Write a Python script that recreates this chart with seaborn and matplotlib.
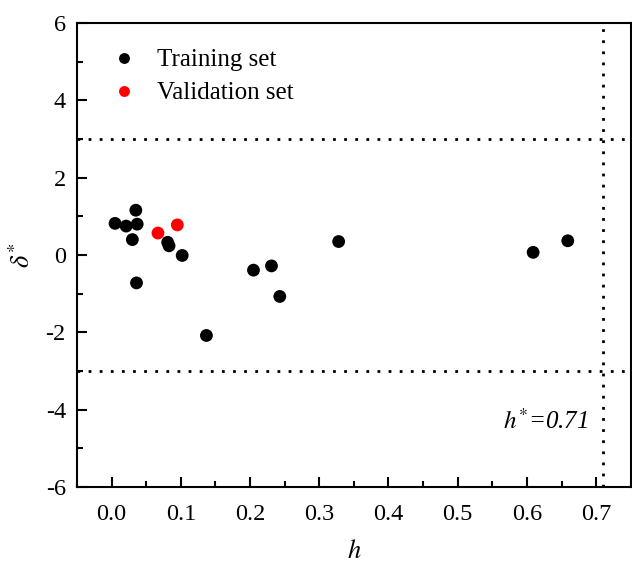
import matplotlib
matplotlib.use("Agg")
import matplotlib.pyplot as plt
import seaborn as sns
import pandas as pd
from matplotlib.ticker import MultipleLocator

train_h = [0.005, 0.021, 0.035, 0.037, 0.030, 0.036, 0.081, 0.083, 0.102, 0.137,
           0.205, 0.231, 0.243, 0.328, 0.609, 0.659]
train_d = [0.82, 0.75, 1.16, 0.80, 0.40, -0.72, 0.33, 0.24, -0.01, -2.08,
           -0.39, -0.28, -1.07, 0.35, 0.07, 0.37]
val_h = [0.067, 0.095]
val_d = [0.57, 0.78]
h_star = 0.71
d_limit = 3

df = pd.DataFrame({
    "h": train_h + val_h,
    "d": train_d + val_d,
    "set": ["Training set"] * len(train_h) + ["Validation set"] * len(val_h),
})

sns.set_style("white")
plt.rcParams["font.family"] = ["Liberation Serif", "DejaVu Serif"]
plt.rcParams["mathtext.fontset"] = "stix"
plt.rcParams["axes.unicode_minus"] = False
plt.rcParams["text.color"] = "black"
plt.rcParams["axes.labelcolor"] = "black"
plt.rcParams["xtick.color"] = "black"
plt.rcParams["ytick.color"] = "black"

fig = plt.figure(figsize=(6.32, 5.64), dpi=100)
ax = fig.add_axes([0.1218, 0.1365, 0.8762, 0.8225])

sns.scatterplot(data=df, x="h", y="d", hue="set",
                palette={"Training set": "black", "Validation set": "red"},
                s=85, edgecolor="none", ax=ax, zorder=3)

ax.axhline(d_limit, color="black", ls=(0, (1, 3)), lw=2)
ax.axhline(-d_limit, color="black", ls=(0, (1, 3)), lw=2)
ax.axvline(h_star, color="black", ls=(0, (1, 3)), lw=2)

ax.set_xlim(-0.05, 0.75)
ax.set_ylim(-6, 6)
ax.xaxis.set_major_locator(MultipleLocator(0.1))
ax.xaxis.set_minor_locator(MultipleLocator(0.05))
ax.yaxis.set_major_locator(MultipleLocator(2))
ax.yaxis.set_minor_locator(MultipleLocator(1))
ax.xaxis.set_major_formatter(matplotlib.ticker.FormatStrFormatter("%.1f"))
ax.tick_params(which="both", direction="in", top=False, right=False,
               bottom=True, left=True, labelsize=17.5, width=1.5)
ax.tick_params(which="major", length=7)
ax.tick_params(which="minor", length=4)
ax.tick_params(axis="x", pad=12)
ax.tick_params(axis="y", pad=8)
for sp in ax.spines.values():
    sp.set_linewidth(1.5)
    sp.set_color("black")

ax.set_xlabel("$h$", fontsize=19, labelpad=11)
ax.set_ylabel(r"$\delta^{*}$", fontsize=19, rotation=90, labelpad=8)

ax.text(0.688, -4.3, r"$h^{*}$=0.71", fontsize=18, style="italic",
        ha="right", va="center")

leg = ax.legend(loc="upper left", bbox_to_anchor=(0.0, 0.993), frameon=False,
                fontsize=18, handletextpad=0.3, labelspacing=0.42,
                markerscale=0.85)

fig.savefig("out.png", dpi=100)
